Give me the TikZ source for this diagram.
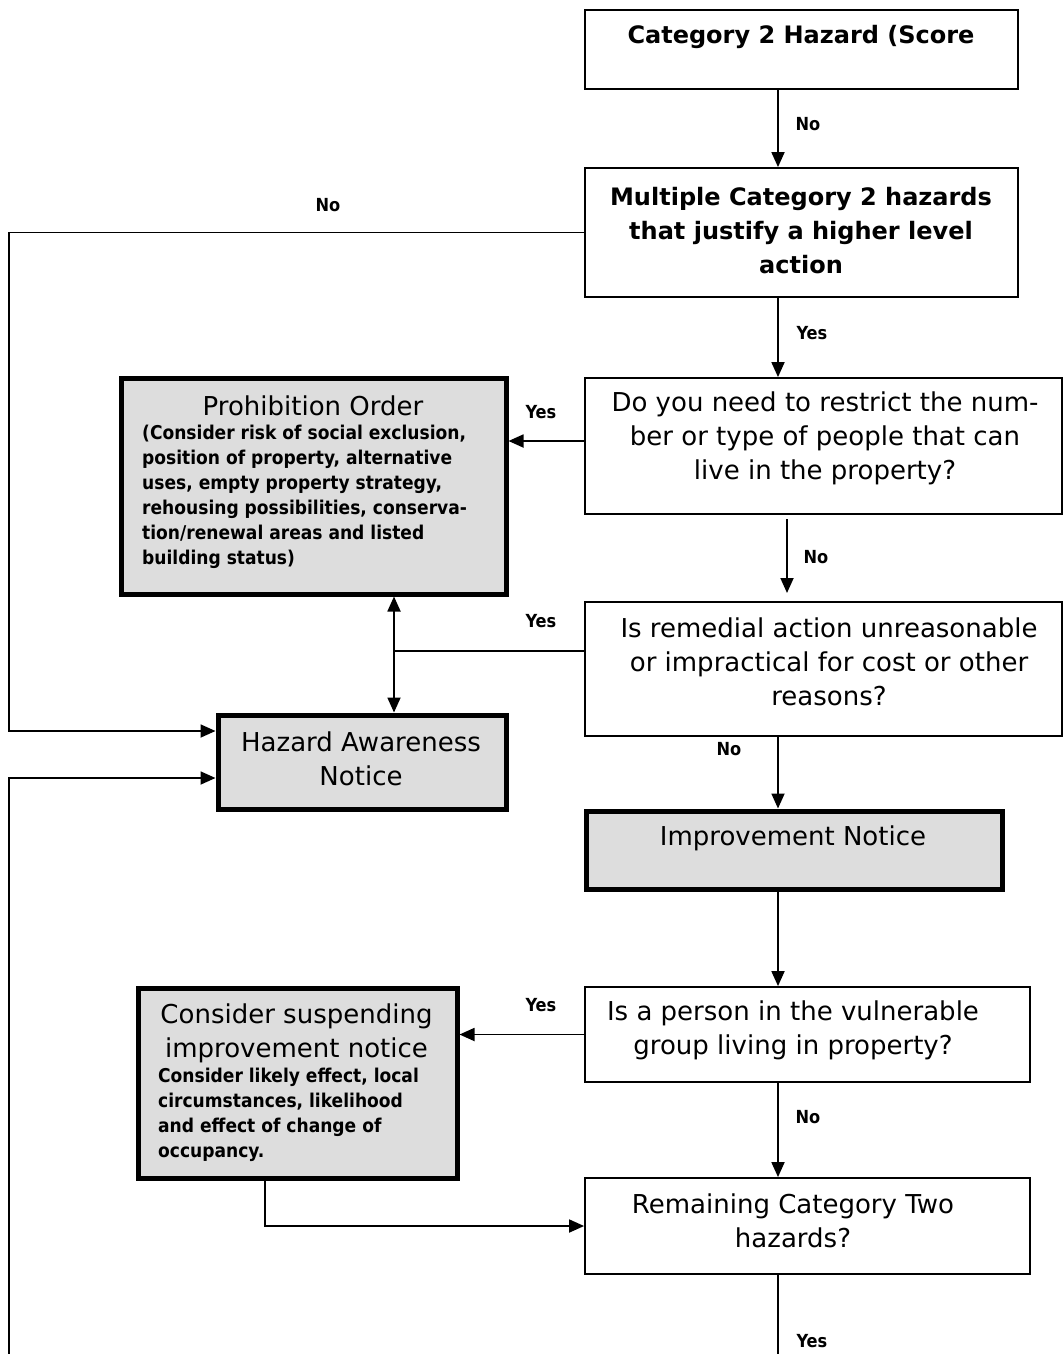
\documentclass[tikz,border=0pt]{standalone}
\usepackage{fontspec}
\setmainfont{DejaVu Sans}
\newfontfamily\condf{DejaVu Sans Condensed}
\usetikzlibrary{arrows.meta}
\definecolor{boxgray}{RGB}{221,221,221}
\tikzset{
  tbox/.style={draw, line width=1.8pt, fill=white, inner sep=0pt},
  gbox/.style={draw, line width=5pt, fill=boxgray, inner sep=0pt},
  arr/.style={line width=1.8pt, -{Triangle[length=15pt,width=13pt]}},
  ln/.style={line width=1.8pt},
  bigt/.style={font=\fontsize{26}{34}\selectfont, align=center, inner sep=0pt},
  bigbt/.style={font=\bfseries\fontsize{24}{34}\selectfont, align=center, inner sep=0pt},
  smallt/.style={font=\condf\bfseries\fontsize{19}{25}\selectfont, align=left, inner sep=0pt},
  labt/.style={font=\condf\bfseries\fontsize{18}{20}\selectfont, inner sep=0pt}
}
\begin{document}
\begin{tikzpicture}[x=1pt,y=-1pt]
\useasboundingbox[fill=white] (0,0) rectangle (1063,1354);
% boxes
\node[tbox, minimum width=433, minimum height=79] (b1) at (801.5,49.5) {};
\node[tbox, minimum width=433, minimum height=129] (b2) at (801.5,232.5) {};
\node[tbox, minimum width=477, minimum height=136] (b3) at (823.5,446) {};
\node[tbox, minimum width=477, minimum height=134] (b4) at (823.5,669) {};
\node[gbox, minimum width=416, minimum height=78] (b5) at (794,850) {};
\node[tbox, minimum width=445, minimum height=95] (b6) at (807.5,1034.5) {};
\node[tbox, minimum width=445, minimum height=96] (b7) at (807.5,1226) {};
\node[gbox, minimum width=385, minimum height=216] (p) at (313.5,486) {};
\node[gbox, minimum width=288, minimum height=94] (h) at (362,762) {};
\node[gbox, minimum width=319, minimum height=190] (s) at (297.5,1083) {};
% texts
\node[bigbt] (t1) at (801,37) {Category 2 Hazard (Score};
\node[bigbt] (t2) at (801,231) {Multiple Category 2 hazards\\that justify a higher level\\action};
\node[bigt] (t3) at (825,438) {Do you need to restrict the num-\\ber or type of people that can\\live in the property?};
\node[bigt] (t4) at (829,662) {Is remedial action unreasonable\\or impractical for cost or other\\reasons?};
\node[bigt] (t5) at (793,838) {Improvement Notice};
\node[bigt] (t6) at (793,1030) {Is a person in the vulnerable\\group living in property?};
\node[bigt] (t7) at (793,1221) {Remaining Category Two\\hazards?};
\node[bigt] (t8) at (361,759) {Hazard Awareness\\Notice};
\node[bigt] (tp) at (313,406) {Prohibition Order};
\node[smallt, anchor=west] (tps) at (142,497) {(Consider risk of social exclusion,\\position of property, alternative\\uses, empty property strategy,\\rehousing possibilities, conserva-\\tion/renewal areas and listed\\building status)};
\node[bigt] (ts) at (296.5,1033) {Consider suspending\\improvement notice};
\node[smallt, anchor=west] (tss) at (158,1115) {Consider likely effect, local\\circumstances, likelihood\\and effect of change of\\occupancy.};
% coordinates
\coordinate (ax) at (778,0);
\coordinate (n1s) at (787,519);
\coordinate (n1e) at (787,593);
\coordinate (lx) at (9,731);
\coordinate (lb) at (9,1354);
\coordinate (j) at (394,651);
\coordinate (sx) at (265,0);
\coordinate (bot) at (778,1354);
% connectors
\draw[arr] (b1.south -| ax) -- (b2.north -| ax);
\draw[arr] (b2.south -| ax) -- (b3.north -| ax);
\draw[arr] (b2.west) -| (lx) -- (h.west |- lx);
\draw[arr] ([yshift=5pt]b3.west) -- ([yshift=5pt]b3.west -| p.east);
\draw[arr] (n1s) -- (n1e);
\draw[ln] (b4.west |- j) -- (j);
\draw[arr] (j) -- (p.south -| j);
\draw[arr] (j) -- (h.north -| j);
\draw[arr] (b4.south -| ax) -- (b5.north -| ax);
\draw[arr] (b5.south -| ax) -- (b6.north -| ax);
\draw[arr] (b6.west) -- (b6.west -| s.east);
\draw[arr] (b6.south -| ax) -- (b7.north -| ax);
\draw[arr] (s.south -| sx) |- (b7.west);
\draw[ln] (b7.south -| ax) -- (bot);
\draw[arr] (lb) |- ([yshift=-16pt]h.west);
% labels
\node[labt] (l1) at (808,124) {No};
\node[labt] (l2) at (812,333) {Yes};
\node[labt] (l3) at (328,205) {No};
\node[labt] (l4) at (541,412) {Yes};
\node[labt] (l5) at (816,557) {No};
\node[labt] (l6) at (541,621) {Yes};
\node[labt] (l7) at (729,749) {No};
\node[labt] (l8) at (541,1005) {Yes};
\node[labt] (l9) at (808,1117) {No};
\node[labt] (l10) at (812,1341) {Yes};
\end{tikzpicture}
\end{document}
